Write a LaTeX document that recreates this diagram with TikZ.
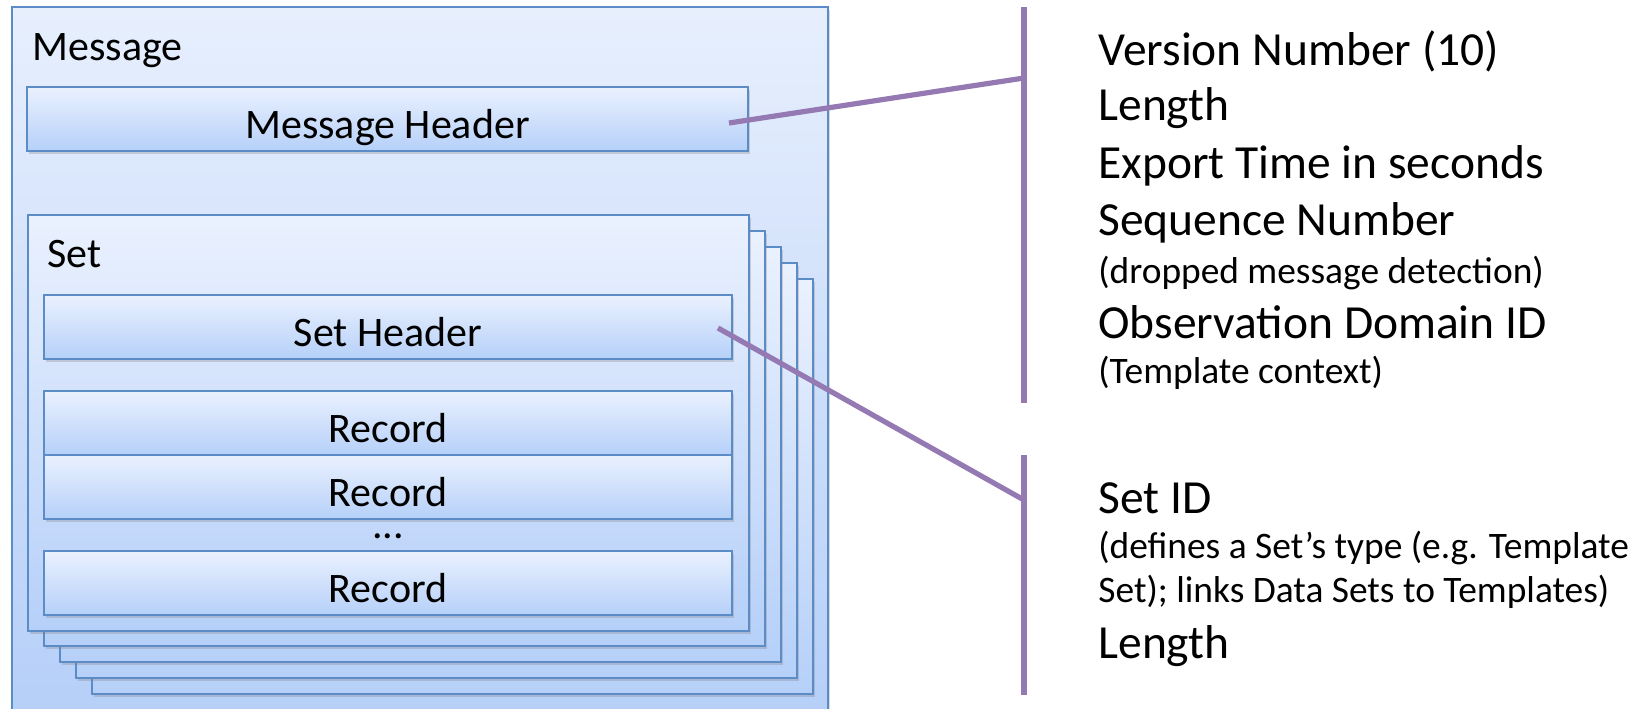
\documentclass[tikz,border=0pt]{standalone}
\usepackage{fontspec}
\setmainfont{Carlito}
\usetikzlibrary{shadows}
\definecolor{boxline}{RGB}{91,140,197}
\definecolor{boxtop}{RGB}{234,241,254}
\definecolor{boxbot}{RGB}{182,208,249}
\definecolor{msgtop}{RGB}{231,239,253}
\definecolor{msgbot}{RGB}{180,206,248}
\definecolor{linkpurple}{RGB}{148,121,179}
\tikzset{
	sheet/.style={draw=boxline, line width=1pt, top color=boxtop, bottom color=boxbot,
		drop shadow={shadow xshift=1pt, shadow yshift=-1.5pt, opacity=0.3}},
	field/.style={sheet, inner sep=0pt, minimum width=344pt, text height=25.5pt, text depth=6.5pt,
		font=\fontsize{21}{25}\selectfont},
	boxlabel/.style={anchor=base west, inner sep=0pt, font=\fontsize{21}{25}\selectfont},
	link/.style={draw=linkpurple, line width=2.6pt},
	bar/.style={draw=linkpurple, line width=2.6pt},
	bigtxt/.style={anchor=base west, inner sep=0pt, font=\fontsize{23.75}{28}\selectfont},
	smalltxt/.style={anchor=base west, inner sep=0pt, font=\fontsize{18.7}{22}\selectfont}
}

\begin{document}
\begin{tikzpicture}[x=0.5pt, y=-0.5pt]
			%%%%% START %%%%%
			\useasboundingbox (0, 0) rectangle (1639, 708);
			
			% message frame
			\draw[sheet, top color=msgtop, bottom color=msgbot] (12, 7) rectangle (828, 740);
			\node[boxlabel] (msglabel) at (32, 60) {Message};
			
			\node[field, minimum width=360.5pt] (mhdr) at (387.5, 119) {Message Header};
			
			% stacked sets
			\draw[sheet] (92, 279) rectangle (813, 694);
			\draw[sheet] (76, 263) rectangle (797, 678);
			\draw[sheet] (60, 247) rectangle (781, 662);
			\draw[sheet] (44, 231) rectangle (765, 646);
			\draw[sheet] (28, 215) rectangle (749, 631);
			\node[boxlabel] (setlabel) at (47, 267) {Set};
			
			\node[field] (shdr) at (388, 327) {Set Header};
			\node[field] (rec1) at (388, 423) {Record};
			\node[field] (rec2) at (388, 487) {Record};
			\node[boxlabel, anchor=base, text height=3pt, text depth=0pt] (recdots) at (388, 538) {...};
			\node[field] (rec3) at (388, 583) {Record};
			
			% message header fields
			\coordinate (bar1top) at (1024, 7);
			\coordinate (bar1bot) at (1024, 403);
			\coordinate (bar1join) at (1024, 78);
			\coordinate (mhdrpin) at (729, 123);
			\draw[bar] (bar1top) -- (bar1bot);
			\draw[link] (mhdrpin) -- (bar1join);
			
			\node[bigtxt] (ver) at (1098, 65) {Version Number (10)};
			\node[bigtxt] (len) at (1098, 120) {Length};
			\node[bigtxt] (exptime) at (1098, 178) {Export Time in seconds};
			\node[bigtxt] (seqnum) at (1098, 235) {Sequence Number};
			\node[smalltxt] (seqnote) at (1098, 283) {(dropped message detection)};
			\node[bigtxt] (obsdom) at (1098, 338) {Observation Domain ID};
			\node[smalltxt] (obsnote) at (1098, 383) {(Template context)};
			
			% set header fields
			\coordinate (bar2top) at (1024, 455);
			\coordinate (bar2bot) at (1024, 695);
			\coordinate (bar2join) at (1024, 500);
			\coordinate (shdrpin) at (718, 328);
			\draw[bar] (bar2top) -- (bar2bot);
			\draw[link] (shdrpin) -- (bar2join);
			
			\node[bigtxt] (setid) at (1098, 513) {Set ID};
			\node[smalltxt] (setidnote1) at (1098, 558) {(defines a Set’s type (e.g. Template};
			\node[smalltxt] (setidnote2) at (1098, 602) {Set); links Data Sets to Templates)};
			\node[bigtxt] (setlen) at (1098, 658) {Length};
			
			%%%%% END %%%%%
\end{tikzpicture}
\end{document}
